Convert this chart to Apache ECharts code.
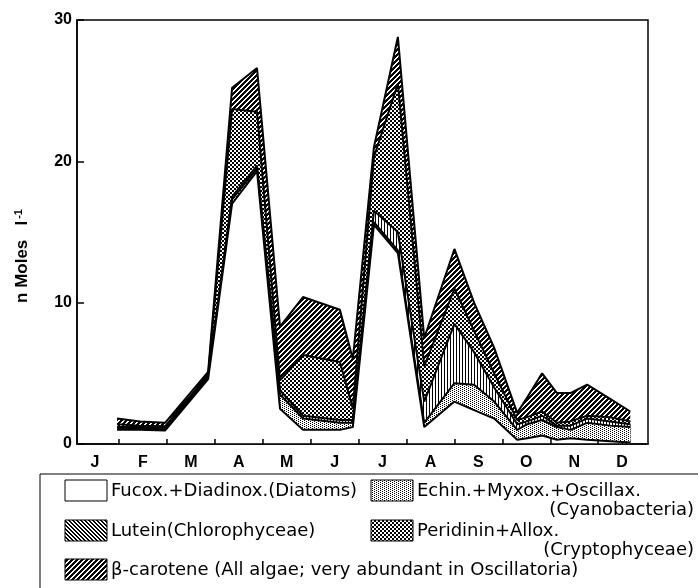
<!DOCTYPE html>
<html>
<head>
<meta charset="utf-8">
<script src="https://cdn.jsdelivr.net/npm/echarts@6/dist/echarts.min.js"></script>
<style>
html,body{margin:0;padding:0;background:#fff;}
#chart{width:698px;height:588px;}
</style>
</head>
<body>
<div id="chart"></div>
<script>
// ---- data (month units: 0 = start of January, 12 = end of December) ----
const monthLabels = ['J','F','M','A','M','J','J','A','S','O','N','D'];
const yTicks = [0, 10, 20, 30];
const timeMonths = [0.96,1.44,1.96,2.86,3.36,3.88,4.36,4.84,5.61,5.88,6.32,6.82,7.37,8.0,8.41,8.83,9.31,9.52,9.83,10.14,10.42,10.77,11.25,11.67];
const fucox     = [1.0,1.0,0.95,4.6,17.0,19.3,2.5,1.0,1.0,1.2,15.5,13.5,1.2,3.0,2.4,1.8,0.3,0.4,0.6,0.3,0.4,0.3,0.2,0.1];
const echin     = [0.1,0.1,0.1,0.1,0.3,0.2,1.0,0.8,0.5,0.3,0.2,0.2,0.3,1.3,1.8,1.2,0.7,1.0,1.1,0.9,0.6,1.2,1.1,1.1];
const lutein    = [0.1,0.1,0.1,0.1,0.2,0.2,0.3,0.2,0.2,0.2,0.8,1.3,1.5,4.2,2.3,1.0,0.4,0.2,0.3,0.1,0.3,0.3,0.3,0.2];
const peridinin = [0.2,0.1,0.1,0.1,6.2,3.8,0.7,4.3,4.1,0.8,3.8,10.5,2.5,2.5,1.5,1.0,0.3,0.3,0.3,0.2,0.3,0.2,0.3,0.2];
const betaCarotene = [0.4,0.3,0.25,0.2,1.5,3.1,3.8,4.1,3.7,3.5,0.7,3.3,2.0,2.8,2.0,1.8,0.5,1.4,2.7,2.1,2.0,2.2,1.3,0.7];
const seriesNames = ['Fucox.+Diadinox.(Diatoms)','Echin.+Myxox.+Oscillax.','Lutein(Chlorophyceae)','Peridinin+Allox.','β-carotene (All algae; very abundant in Oscillatoria)'];
const seriesSubNames = ['', '(Cyanobacteria)', '', '(Cryptophyceae)', ''];
const yAxisTitle = 'n Moles   l';
const yAxisTitleSup = '-1';

// ---- patterns (opaque: white background + black marks) ----
function makePattern(size, test) {
  const c = document.createElement('canvas');
  c.width = size; c.height = size;
  const ctx = c.getContext('2d');
  ctx.fillStyle = '#ffffff'; ctx.fillRect(0,0,size,size);
  ctx.fillStyle = '#000000';
  for (let x = 0; x < size; x++) for (let y = 0; y < size; y++) if (test(x,y)) ctx.fillRect(x,y,1,1);
  return {image: c, repeat: 'repeat'};
}
const patWhite = '#ffffff';
const patStipple = makePattern(4, (x,y) => (x===0&&y===0)||(x===2&&y===1)||(x===0&&y===2)||(x===2&&y===3));
const patVertical = makePattern(3, (x,y) => x===0);
const patBackDiag = makePattern(4, (x,y) => ((x - y + 8) % 4) < 2);
const patMesh = makePattern(4, (x,y) => ((x%4<2) !== (y%4<2)));
const patForward = makePattern(5, (x,y) => ((x+y)%5) < 3);
const chartFills = [patWhite, patStipple, patVertical, patMesh, patForward];
const legendFills = [patWhite, patStipple, patBackDiag, patMesh, patForward];

const valueArrays = [fucox, echin, lutein, peridinin, betaCarotene];
const monthTickValues = monthLabels.slice(1).map((_, i) => i + 1);
const monthCenterValues = monthLabels.map((_, i) => i + 0.5);

// cumulative tops of the stacked layers
const cumulative = [];
valueArrays.forEach((arr, k) => {
  cumulative.push(arr.map((v, i) => +(v + (k ? cumulative[k-1][i] : 0)).toFixed(3)));
});

// draw from the top layer down; each opaque fill covers the part below its own top
const series = valueArrays.map((arr, k) => ({
  name: seriesNames[k],
  type: 'line',
  symbol: 'none',
  smooth: false,
  data: timeMonths.map((t, i) => [t, cumulative[k][i]]),
  lineStyle: {color: '#000', width: 2},
  areaStyle: {color: chartFills[k], opacity: 1, origin: 'start'},
  z: 10 - k
}));

// ---- legend drawn as graphics ----
const FONT = '"DejaVu Sans", sans-serif';
const legendCols = [65, 371];
const legendRows = [490, 530, 569];
const legendPos = [[0,0],[1,0],[0,1],[1,1],[0,2]];
const graphics = [
  {type:'line', shape:{x1:40, y1:474, x2:698, y2:474}, style:{stroke:'#000', lineWidth:1}},
  {type:'line', shape:{x1:40, y1:474, x2:40, y2:588}, style:{stroke:'#000', lineWidth:1}},
  {type:'text', x:22, y:256, rotation: Math.PI/2,
   style:{text:'{t|' + yAxisTitle + '}{s|' + yAxisTitleSup + '}', align:'center', verticalAlign:'middle',
     rich:{t:{fontSize:17, fontWeight:'bold', fontFamily:'"Liberation Sans", Arial, sans-serif', fill:'#000'},
           s:{fontSize:11, fontWeight:'bold', fontFamily:'"Liberation Sans", Arial, sans-serif', fill:'#000', verticalAlign:'top', lineHeight:10, padding:[0,0,8,2]}}}}
];
seriesNames.forEach((name, k) => {
  const cx = legendCols[legendPos[k][0]];
  const cy = legendRows[legendPos[k][1]];
  graphics.push({type:'rect', shape:{x:cx, y:cy-10, width:42, height:21}, style:{fill:legendFills[k], stroke:'#000', lineWidth:1}});
  graphics.push({type:'text', x:cx+46, y:cy+1, style:{text:name, font:'18px ' + FONT, fill:'#000', verticalAlign:'middle', align:'left'}});
  if (seriesSubNames[k]) {
    graphics.push({type:'text', x:694, y:cy+20, style:{text:seriesSubNames[k], font:'18px ' + FONT, fill:'#000', verticalAlign:'middle', align:'right'}});
  }
});

const chart = echarts.init(document.getElementById('chart'), null, {renderer:'canvas'});
chart.setOption({
  animation: false,
  backgroundColor: '#fff',
  grid: {left:77, right:50, top:20, bottom:144, show:true, borderColor:'#000', borderWidth:1.5, backgroundColor:'transparent'},
  xAxis: {
    type:'value', min:0.123, max:12.04, z:20,
    axisLine:{show:true, lineStyle:{color:'#000', width:1.5}},
    axisTick:{show:true, inside:true, length:5, customValues: monthTickValues, lineStyle:{color:'#000', width:1.5}},
    axisLabel:{show:true, customValues: monthCenterValues, margin:11,
      formatter:(v) => monthLabels[Math.floor(v)],
      fontFamily:'"Liberation Sans", Arial, sans-serif', fontWeight:'bold', fontSize:16, color:'#000'},
    splitLine:{show:false}
  },
  yAxis: {
    type:'value', min:yTicks[0], max:yTicks[yTicks.length-1], interval:10, z:20,
    axisLine:{show:true, lineStyle:{color:'#000', width:1.5}},
    axisTick:{show:true, inside:true, length:7, lineStyle:{color:'#000', width:1.5}},
    axisLabel:{margin:5, fontFamily:'"Liberation Sans", Arial, sans-serif', fontWeight:'bold', fontSize:16, color:'#000'},
    splitLine:{show:false}
  },
  series: series,
  graphic: graphics
});
</script>
</body>
</html>
